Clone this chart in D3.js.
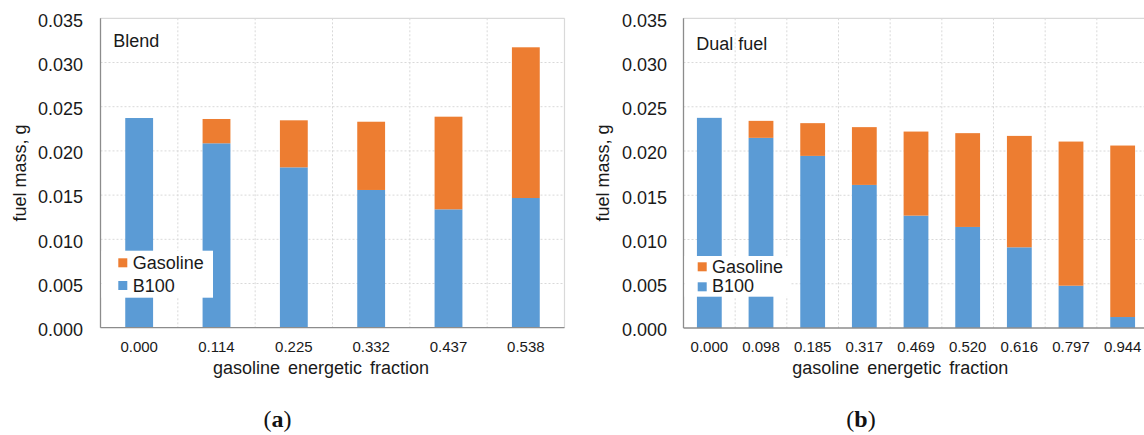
<!DOCTYPE html>
<html>
<head>
<meta charset="utf-8">
<script src="https://cdn.jsdelivr.net/npm/d3@7/dist/d3.min.js"></script>
<style>
  html, body { margin: 0; padding: 0; background: #fff; }
  svg { display: block; }
</style>
</head>
<body>
<svg id="chart" width="1144" height="435"></svg>
<script>
// ---- data ----
const blendCategories = ["0.000", "0.114", "0.225", "0.332", "0.437", "0.538"];
const blendB100 = [0.02372, 0.02086, 0.01814, 0.01558, 0.01339, 0.01467];
const blendGasoline = [0.0, 0.00275, 0.00532, 0.00772, 0.01048, 0.01705];

const dualCategories = ["0.000", "0.098", "0.185", "0.317", "0.469", "0.520", "0.616", "0.797", "0.944"];
const dualB100 = [0.02375, 0.02149, 0.01945, 0.01617, 0.01270, 0.01142, 0.00912, 0.00478, 0.00124];
const dualGasoline = [0.0, 0.00192, 0.00370, 0.00653, 0.00950, 0.01060, 0.01259, 0.01629, 0.01938];

const yTickValues = [0, 0.005, 0.010, 0.015, 0.020, 0.025, 0.030, 0.035];
const seriesNames = ["Gasoline", "B100"];
const seriesColors = { "B100": "#5B9BD5", "Gasoline": "#ED7D31" };

const svg = d3.select("#chart");
const FONT = "'Liberation Sans', Arial, sans-serif";
const TXT = "#1a1a1a";

function drawPanel(cfg) {
  const g = svg.append("g");
  const y = d3.scaleLinear().domain([0, 0.035]).range([cfg.bottom, cfg.top]);
  const x = d3.scaleBand().domain(cfg.categories).range([cfg.left, cfg.right])
    .paddingInner(cfg.pad).paddingOuter(cfg.pad / 2);
  const step = x.step();

  // horizontal gridlines
  g.append("g").selectAll("line").data(yTickValues.filter(d => d > 0 && d < 0.035)).join("line")
    .attr("x1", cfg.left).attr("x2", cfg.right)
    .attr("y1", d => y(d)).attr("y2", d => y(d))
    .attr("stroke", "#d9d9d9").attr("stroke-width", 1).attr("stroke-dasharray", "2,2");
  // vertical gridlines at band boundaries
  const bounds = d3.range(1, cfg.categories.length);
  g.append("g").selectAll("line").data(bounds).join("line")
    .attr("x1", k => cfg.left + k * step).attr("x2", k => cfg.left + k * step)
    .attr("y1", cfg.top).attr("y2", cfg.bottom)
    .attr("stroke", "#d9d9d9").attr("stroke-width", 1).attr("stroke-dasharray", "2,2");
  // top border & right border
  g.append("line").attr("x1", cfg.left).attr("x2", cfg.right).attr("y1", cfg.top).attr("y2", cfg.top)
    .attr("stroke", "#d9d9d9").attr("stroke-width", 1.2);
  g.append("line").attr("x1", cfg.right).attr("x2", cfg.right).attr("y1", cfg.top).attr("y2", cfg.bottom)
    .attr("stroke", "#d9d9d9").attr("stroke-width", 1.2);

  // stacked bars
  const rows = cfg.categories.map((c, i) => ({ cat: c, B100: cfg.b100[i], Gasoline: cfg.gas[i] }));
  const stack = d3.stack().keys(["B100", "Gasoline"])(rows);
  g.append("g").selectAll("g").data(stack).join("g")
    .attr("fill", s => seriesColors[s.key])
    .selectAll("rect").data(s => s).join("rect")
    .attr("x", d => x(d.data.cat))
    .attr("width", x.bandwidth())
    .attr("y", d => y(d[1]))
    .attr("height", d => Math.max(0, y(d[0]) - y(d[1])));

  // axes lines
  g.append("line").attr("x1", cfg.left).attr("x2", cfg.left).attr("y1", cfg.top).attr("y2", cfg.bottom)
    .attr("stroke", "#8c8c8c").attr("stroke-width", 1.3);
  g.append("line").attr("x1", cfg.left).attr("x2", cfg.right).attr("y1", cfg.bottom).attr("y2", cfg.bottom)
    .attr("stroke", "#8c8c8c").attr("stroke-width", 1.3);

  // y tick labels
  const yAxis = d3.axisLeft(y).tickValues(yTickValues).tickFormat(d3.format(".3f")).tickSize(0).tickPadding(cfg.left - cfg.ytickRight);
  const ya = g.append("g").attr("transform", `translate(${cfg.left},0)`).call(yAxis);
  ya.select(".domain").remove();
  ya.selectAll("text").attr("font-family", FONT).attr("font-size", 18).attr("fill", TXT).attr("dy", "0.43em");

  // x tick labels
  const xAxis = d3.axisBottom(x).tickSize(0).tickPadding(0);
  const xa = g.append("g").attr("transform", `translate(0,${cfg.bottom})`).call(xAxis);
  xa.select(".domain").remove();
  xa.selectAll("text").attr("font-family", FONT).attr("font-size", 15).attr("fill", TXT)
    .attr("dy", null).attr("y", 352 - cfg.bottom);

  // legend box
  g.append("rect").attr("x", cfg.left + 1).attr("y", cfg.legend.y0)
    .attr("width", cfg.legend.x1 - cfg.left - 1).attr("height", cfg.legend.y1 - cfg.legend.y0)
    .attr("fill", "#fff");
  const lg = g.append("g");
  seriesNames.forEach((name, i) => {
    lg.append("rect").attr("x", cfg.legend.sx).attr("y", cfg.legend.sy[i])
      .attr("width", 9).attr("height", 9).attr("fill", seriesColors[name]);
    lg.append("text").attr("x", cfg.legend.tx).attr("y", cfg.legend.ty[i])
      .attr("font-family", FONT).attr("font-size", 18).attr("fill", TXT).text(name);
  });

  // panel label
  g.append("text").attr("x", cfg.label.x).attr("y", cfg.label.y)
    .attr("font-family", FONT).attr("font-size", 18).attr("fill", TXT).text(cfg.label.text);

  // axis titles
  g.append("text").attr("x", cfg.xTitle.x).attr("y", cfg.xTitle.y).attr("text-anchor", "middle")
    .attr("font-family", FONT).attr("font-size", 18).attr("fill", TXT)
    .attr("word-spacing", "3px").text("gasoline energetic fraction");
  g.append("text").attr("transform", `translate(${cfg.yTitle.x},${cfg.yTitle.y}) rotate(-90)`)
    .attr("text-anchor", "middle")
    .attr("font-family", FONT).attr("font-size", 18).attr("fill", TXT).text("fuel mass, g");

  // sub-figure caption
  const cap = g.append("text").attr("x", cfg.caption.x).attr("y", 427).attr("text-anchor", "middle")
    .attr("font-family", "'Liberation Serif', 'Times New Roman', serif").attr("font-size", 24).attr("fill", "#111");
  cap.append("tspan").text("(");
  cap.append("tspan").attr("font-weight", "bold").text(cfg.caption.letter);
  cap.append("tspan").text(")");
}

drawPanel({
  categories: blendCategories, b100: blendB100, gas: blendGasoline,
  left: 100.5, right: 564.5, top: 18.3, bottom: 327.7, pad: 0.64, ytickRight: 83,
  legend: { x1: 213, y0: 250.7, y1: 297.7, sx: 118.3, sy: [258.3, 281], tx: 132.7, ty: [269.3, 291.8] },
  label: { x: 113.3, y: 47.3, text: "Blend" },
  xTitle: { x: 321, y: 373.5 },
  yTitle: { x: 26, y: 173 },
  caption: { x: 277.5, letter: "a" }
});

drawPanel({
  categories: dualCategories, b100: dualB100, gas: dualGasoline,
  left: 683.5, right: 1148.5, top: 18.3, bottom: 328, pad: 0.52, ytickRight: 667,
  legend: { x1: 790, y0: 256, y1: 296.7, sx: 697.7, sy: [262.3, 282.3], tx: 712, ty: [273, 292] },
  label: { x: 696.3, y: 50, text: "Dual fuel" },
  xTitle: { x: 900.3, y: 373.5 },
  yTitle: { x: 609, y: 173 },
  caption: { x: 861, letter: "b" }
});
</script>
</body>
</html>
